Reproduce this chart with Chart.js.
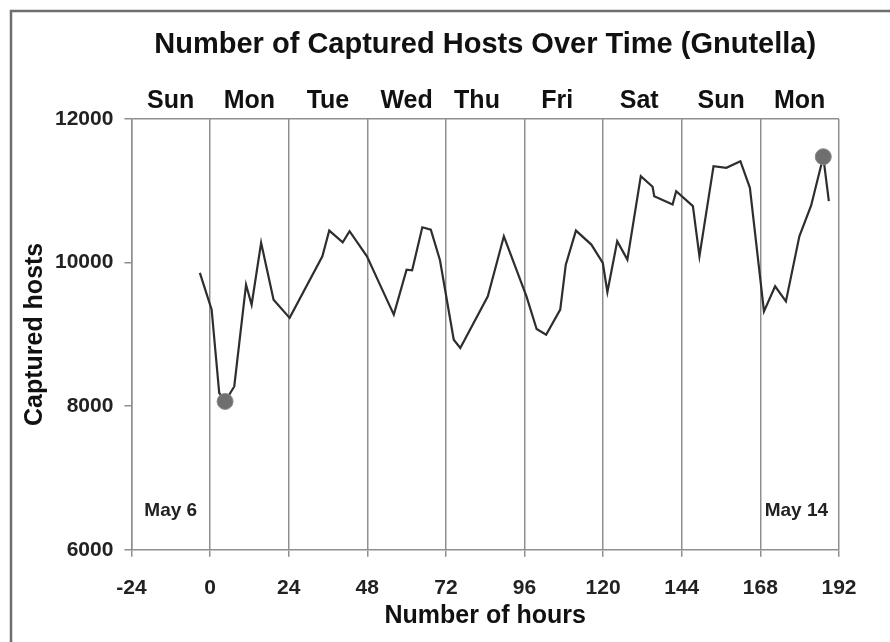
<!DOCTYPE html>
<html>
<head>
<meta charset="utf-8">
<script src="https://cdn.jsdelivr.net/npm/chart.js@4/dist/chart.umd.min.js"></script>
<style>
  body { margin: 0; background: #fff; }
  #wrap { width: 890px; height: 642px; }
</style>
</head>
<body>
<div id="wrap"><canvas id="hostsChart" width="890" height="642"></canvas></div>
<script>
// hours since start vs captured hosts
const hours = [-3.1, 0.5, 2.8, 4.6, 7.4, 11, 12.7, 15.6, 19.4, 24.3,
  34.3, 36.4, 40.5, 42.6, 47.9, 51.8, 56.1, 60, 61.7, 64.8,
  67.4, 70.2, 74.4, 76.4, 84.8, 89.7, 96.6, 99.7, 102.6, 106.9,
  108.6, 111.7, 116.4, 119.9, 121.3, 124.3, 127.4, 131.5, 135.1, 135.6,
  141.2, 142.3, 147.4, 149.4, 153.7, 157.6, 161.9, 164.8, 169.1, 172.5,
  175.8, 179.9, 183.5, 187.2, 188.9];
const hosts = [9856, 9345, 8187, 8066, 8275, 9693, 9414, 10275, 9484, 9230,
  10088, 10446, 10283, 10437, 10088, 9700, 9275, 9902, 9893, 10492,
  10460, 10032, 8926, 8810, 9530, 10367, 9530, 9075, 8996, 9345,
  9972, 10446, 10251, 9995, 9590, 10297, 10042, 11204, 11056, 10925,
  10809, 10995, 10787, 10088, 11343, 11320, 11413, 11042, 9321, 9670,
  9460, 10367, 10795, 11474, 10855];

// min / max points marked with a dot
const markHours = [4.6, 187.2];
const markHosts = [8066, 11474];

// day names along the top and where they sit (hours)
const dayNames = ["Sun", "Mon", "Tue", "Wed", "Thu", "Fri", "Sat", "Sun", "Mon"];
const dayHours = [-12, 12, 36, 60, 81.5, 106, 131, 156, 180];
const xTicks = [-24, 0, 24, 48, 72, 96, 120, 144, 168, 192];
const yTicks = [6000, 8000, 10000, 12000];

const noteLabels = ["May 6", "May 14"];
const noteHours = [-12, 179];
const noteHosts = [6550, 6550];

const TITLE = "Number of Captured Hosts Over Time (Gnutella)";
const FONT = "'Liberation Sans', Arial, sans-serif";
const GRID = "#8f8f8f";

const framePlugin = {
  id: "frame",
  beforeDraw(chart) {
    const c = chart.ctx;
    c.save();
    c.strokeStyle = "#6e6e6e";
    c.lineWidth = 2.5;
    c.beginPath();
    c.moveTo(11, 642);
    c.lineTo(11, 11);
    c.lineTo(890, 11);
    c.stroke();
    c.restore();
  }
};

// title over the plot, day names above it, date notes inside
const textPlugin = {
  id: "texts",
  afterDraw(chart) {
    const c = chart.ctx;
    const xs = chart.scales.x, ys = chart.scales.y;
    const area = chart.chartArea;
    c.save();
    c.textAlign = "center";
    c.textBaseline = "middle";
    c.fillStyle = "#111";
    c.font = "bold 29px " + FONT;
    c.fillText(TITLE, (area.left + area.right) / 2, 45);
    c.font = "bold 25px " + FONT;
    dayNames.forEach((d, i) => {
      c.fillText(d, xs.getPixelForValue(dayHours[i]), area.top - 18);
    });
    c.font = "bold 19px " + FONT;
    c.fillStyle = "#222";
    noteLabels.forEach((t, i) => {
      c.fillText(t, xs.getPixelForValue(noteHours[i]), ys.getPixelForValue(noteHosts[i]));
    });
    c.restore();
  }
};

new Chart(document.getElementById("hostsChart"), {
  type: "line",
  data: {
    datasets: [
      {
        data: markHours.map((h, i) => ({ x: h, y: markHosts[i] })),
        showLine: false,
        pointRadius: 8,
        pointBackgroundColor: "#6f6f6f",
        pointBorderColor: "#8a8a8a",
        pointBorderWidth: 1,
        order: 0
      },
      {
        data: hours.map((h, i) => ({ x: h, y: hosts[i] })),
        borderColor: "#2e2e2e",
        borderWidth: 2.2,
        pointRadius: 0,
        tension: 0,
        order: 1
      }
    ]
  },
  options: {
    responsive: false,
    animation: false,
    layout: { padding: { left: 20, right: 51, top: 119, bottom: 11 } },
    plugins: {
      legend: { display: false },
      tooltip: { enabled: false }
    },
    scales: {
      x: {
        type: "linear",
        min: -24,
        max: 192,
        afterBuildTicks: s => { s.ticks = xTicks.map(v => ({ value: v })); },
        ticks: {
          color: "#222",
          font: { family: FONT, size: 21, weight: "bold" },
          padding: 19
        },
        grid: { color: GRID, lineWidth: 1.5, tickLength: 7, tickColor: GRID },
        border: { color: GRID, width: 1.5 },
        title: {
          display: true,
          text: "Number of hours",
          color: "#111",
          font: { family: FONT, size: 25, weight: "bold" },
          padding: { top: -19, bottom: 0 }
        }
      },
      y: {
        min: 6000,
        max: 12000,
        afterBuildTicks: s => { s.ticks = yTicks.map(v => ({ value: v })); },
        ticks: {
          color: "#222",
          font: { family: FONT, size: 21, weight: "bold" },
          padding: 11,
          callback: v => String(v)
        },
        grid: {
          lineWidth: 1.5,
          tickLength: 7,
          tickColor: GRID,
          color: ctx => (ctx.tick && ctx.tick.value === 12000 ? GRID : "rgba(0,0,0,0)")
        },
        border: { color: GRID, width: 1.5 },
        title: {
          display: true,
          text: "Captured hosts",
          color: "#111",
          font: { family: FONT, size: 25, weight: "bold" },
          padding: { top: 0, bottom: -6 }
        }
      }
    }
  },
  plugins: [framePlugin, textPlugin]
});
</script>
</body>
</html>
